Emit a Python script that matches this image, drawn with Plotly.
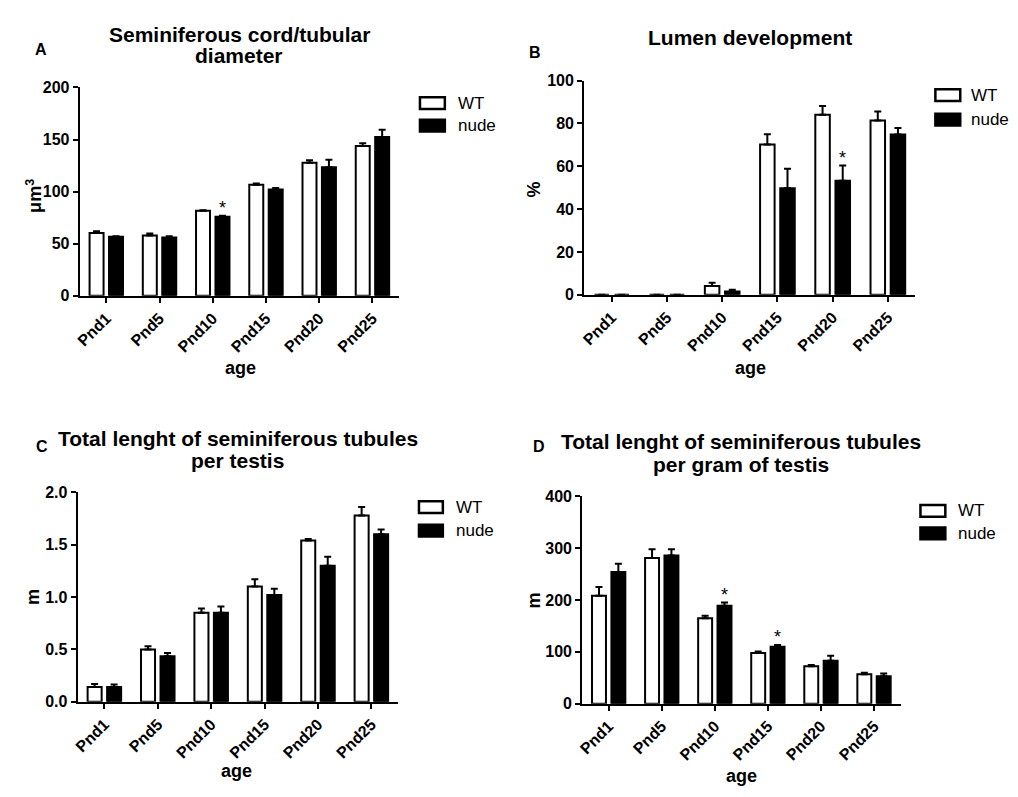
import plotly.graph_objects as go

# ---------------- data ----------------
categories = ["Pnd1", "Pnd5", "Pnd10", "Pnd15", "Pnd20", "Pnd25"]
series_names = ["WT", "nude"]

A_wt = [60.3, 57.8, 81.6, 106.6, 127.8, 143.8]
A_wt_err = [1.6, 1.9, 0.6, 1.2, 2.2, 2.5]
A_nude = [56.6, 55.9, 75.9, 101.9, 123.4, 152.5]
A_nude_err = [0.6, 1.3, 1.0, 1.5, 7.2, 6.9]
A_sig = ["Pnd10"]

B_wt = [0, 0, 4.1, 70.2, 84.0, 81.3]
B_wt_err = [None, None, 1.5, 4.7, 4.1, 4.3]
B_nude = [0, 0, 1.5, 49.7, 53.2, 74.8]
B_nude_err = [None, None, 0.8, 9.1, 7.1, 3.0]
B_sig = ["Pnd20"]

C_wt = [0.14, 0.50, 0.85, 1.10, 1.54, 1.78]
C_wt_err = [0.03, 0.03, 0.04, 0.07, 0.015, 0.08]
C_nude = [0.14, 0.435, 0.85, 1.02, 1.30, 1.60]
C_nude_err = [0.025, 0.03, 0.06, 0.06, 0.085, 0.046]
C_sig = []

D_wt = [208, 281, 165, 98, 72, 57]
D_wt_err = [17, 17, 4.5, 2.5, 2.5, 2.5]
D_nude = [254, 286, 189, 110, 83, 53]
D_nude_err = [16, 12, 6, 3, 9.5, 5]
D_sig = ["Pnd10", "Pnd15"]

titles = [["Seminiferous cord/tubular", "diameter"],
          ["Lumen development"],
          ["Total lenght of seminiferous tubules", "per testis"],
          ["Total lenght of seminiferous tubules", "per gram of testis"]]
letters = ["A", "B", "C", "D"]
ytitles = ["μm<sup>3</sup>", "%", "m", "m"]
xtitle = "age"
yranges = [[0, 200], [0, 100], [0, 2.0], [0, 400]]
ydticks = [50, 20, 0.5, 100]
ytickformats = ["d", "d", ".1f", "d"]

# ---------------- layout geometry (page pixels) ----------------
PAGE_W, PAGE_H = 1018, 797
BODY = 8                      # default html body margin
W, H = PAGE_W - 2 * BODY, PAGE_H - 2 * BODY


def fx(px):
    return (px - BODY) / W


def fy(py):
    return 1 - (py - BODY) / H


# x0, x1, ytop, ybottom of each plot area
boxes = [(75, 396, 81, 294), (582, 915, 74, 293),
         (73, 395, 495, 709), (580, 900, 499, 711)]
title_lines_y = [(27, 48), (30,), (440, 462), (443, 466)]
letter_pos = [(36, 42), (533, 45), (37, 448), (537, 448)]
# legend swatch left x, swatch right x, row centers y
legend_geo = [(417, 442, (97, 120)), (935, 960, (89, 114)),
              (416, 440, (510, 534)), (920, 945, (514, 537))]
legend_text_gap = [11, 9, 11, 11]
xtitle_pos = [(237, 368), (749, 368), (233, 780), (740, 785)]
ytitle_pos = [(30, 192), (532, 185), (28, 602), (532, 605)]

BARGAP = 0.27
BARGROUPGAP = 0.28
FONT = "Liberation Sans, Arial, sans-serif"
fills = ["white", "black"]

fig = go.Figure()
panels = [(A_wt, A_wt_err, A_nude, A_nude_err, A_sig),
          (B_wt, B_wt_err, B_nude, B_nude_err, B_sig),
          (C_wt, C_wt_err, C_nude, C_nude_err, C_sig),
          (D_wt, D_wt_err, D_nude, D_nude_err, D_sig)]

annotations = []
shapes = []
for i, (wt, wte, nu, nue, sig) in enumerate(panels):
    n = "" if i == 0 else str(i + 1)
    xa, ya = "x" + n, "y" + n
    for name, vals, errs, fill in zip(series_names, [wt, nu], [wte, nue], fills):
        fig.add_trace(go.Bar(
            x=categories, y=vals, name=name, xaxis=xa, yaxis=ya, showlegend=False,
            marker=dict(color=fill, line=dict(color="black", width=2)),
            error_y=dict(type="data", array=errs, arrayminus=[0] * len(errs),
                         symmetric=False, color="black", thickness=2, width=3.5),
        ))
    # significance markers above nude bars
    slot = (1 - BARGAP) / 2
    for c in sig:
        k = categories.index(c)
        annotations.append(dict(
            x=k + slot / 2, y=nu[k] + nue[k], xref=xa, yref=ya,
            text="*", showarrow=False, yanchor="middle", yshift=8,
            font=dict(family=FONT, size=18, color="black")))

    x0, x1, yt, yb = boxes[i]
    axis_common = dict(showline=True, linewidth=2, linecolor="black",
                       ticks="outside", tickwidth=2, ticklen=5, tickcolor="black",
                       showgrid=False, zeroline=False,
                       tickfont=dict(family=FONT, size=16, color="black", weight="bold"))
    fig.layout["xaxis" + n] = dict(
        domain=[fx(x0), fx(x1)], anchor=ya, type="category",
        range=[-0.5, 5.5], tickangle=-45, **axis_common)
    fig.layout["yaxis" + n] = dict(
        domain=[fy(yb), fy(yt)], anchor=xa,
        range=yranges[i], dtick=ydticks[i], tick0=0, tickformat=ytickformats[i],
        **axis_common)

    # legend (swatch + label)
    sx0, sx1, rows = legend_geo[i]
    for name, fill, ry in zip(series_names, fills, rows):
        shapes.append(dict(type="rect", xref="paper", yref="paper",
                           x0=fx(sx0), x1=fx(sx1), y0=fy(ry + 6), y1=fy(ry - 6),
                           fillcolor=fill, line=dict(color="black", width=2.5)))
        annotations.append(dict(
            x=fx(sx1 + legend_text_gap[i]), y=fy(ry), xref="paper", yref="paper",
            text=name, showarrow=False, xanchor="left", yanchor="middle",
            font=dict(family=FONT, size=17, color="black")))

    # title, one annotation per line
    for line, ly in zip(titles[i], title_lines_y[i]):
        annotations.append(dict(
            x=fx((x0 + x1) / 2), y=fy(ly), xref="paper", yref="paper",
            text=line, showarrow=False, xanchor="center", yanchor="middle",
            font=dict(family=FONT, size=21, color="black", weight="bold")))
    lxp, lyp = letter_pos[i]
    annotations.append(dict(
        x=fx(lxp), y=fy(lyp), xref="paper", yref="paper",
        text=letters[i], showarrow=False, xanchor="center", yanchor="middle",
        font=dict(family=FONT, size=16, color="black", weight="bold")))
    tx, ty = xtitle_pos[i]
    annotations.append(dict(
        x=fx(tx), y=fy(ty), xref="paper", yref="paper",
        text=xtitle, showarrow=False, xanchor="center", yanchor="middle",
        font=dict(family=FONT, size=18, color="black", weight="bold")))
    tx, ty = ytitle_pos[i]
    annotations.append(dict(
        x=fx(tx), y=fy(ty), xref="paper", yref="paper",
        text=ytitles[i], showarrow=False, xanchor="center", yanchor="middle",
        textangle=-90,
        font=dict(family=FONT, size=18, color="black", weight="bold")))

fig.update_layout(
    width=W, height=H, margin=dict(l=0, r=0, t=0, b=0),
    paper_bgcolor="white", plot_bgcolor="white",
    barmode="group", bargap=BARGAP, bargroupgap=BARGROUPGAP,
    annotations=annotations, shapes=shapes, showlegend=False,
)

fig.write_html("out.html")
